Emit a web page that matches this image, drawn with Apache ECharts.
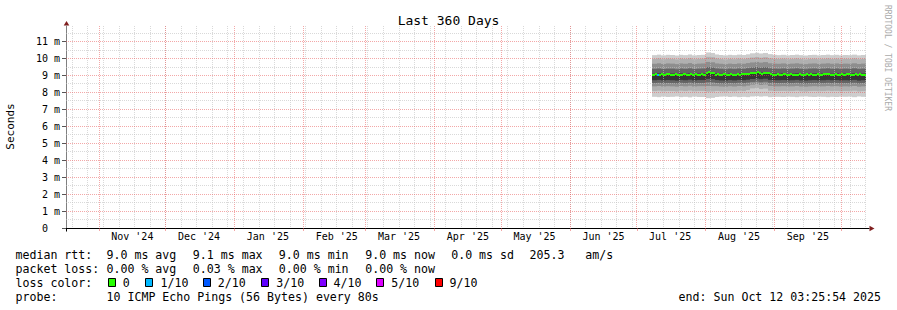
<!DOCTYPE html>
<html>
<head>
<meta charset="utf-8">
<title>Last 360 Days</title>
<script src="https://cdn.jsdelivr.net/npm/echarts@6.0.0/dist/echarts.min.js"></script>
<style>
html,body{margin:0;padding:0;background:#ffffff;}
#chart{width:897px;height:310px;}
</style>
</head>
<body>
<div id="chart"></div>
<script>
// ---------------- data ----------------
const rangeStart = '2024-10-17T03:25:54';
const rangeEnd = '2025-10-12T03:25:54';
const yMax = 11.92;
const yTickValues = [0, 1, 2, 3, 4, 5, 6, 7, 8, 9, 10, 11];
const monthStarts = ['2024-11-01','2024-12-01','2025-01-01','2025-02-01','2025-03-01','2025-04-01',
                     '2025-05-01','2025-06-01','2025-07-01','2025-08-01','2025-09-01','2025-10-01'];
const monthLabelDates = ['2024-11-16','2024-12-16','2025-01-16','2025-02-16','2025-03-16','2025-04-16',
                         '2025-05-16','2025-06-16','2025-07-16','2025-08-16','2025-09-16'];
const monthLabels = ["Nov '24","Dec '24","Jan '25","Feb '25","Mar '25","Apr '25",
                     "May '25","Jun '25","Jul '25","Aug '25","Sep '25"];
const firstSunday = '2024-10-20';

// smoke: sorted pings (ms), one column every 2 days starting 2025-07-08
const smokeStart = '2025-07-08';
const smokeStepDays = 2;
const ping1 = [7.74,7.72,7.75,7.73,7.74,7.76,7.72,7.74,7.71,7.75,7.73,7.73,
               7.66,7.68,7.73,7.75,7.76,7.73,7.75,7.72,7.74,7.72,7.76,7.78,7.75,7.77,7.72,7.74,
               7.74,7.73,7.75,7.74,7.72,7.75,7.76,7.74,7.73,7.75,7.74,7.72,7.74,7.73,7.75,
               7.74,7.75,7.72,7.76,7.74];
const ping2 = [8.08,8.10,8.07,8.09,8.08,8.06,8.10,8.08,8.11,8.07,8.09,8.09,
               8.05,8.06,8.09,8.07,8.06,8.09,8.07,8.10,8.08,8.14,8.24,8.27,8.20,8.23,8.10,8.08,
               8.08,8.09,8.07,8.08,8.10,8.07,8.06,8.08,8.09,8.07,8.08,8.10,8.08,8.09,8.07,
               8.08,8.07,8.10,8.06,8.08];
const ping3 = [8.36,8.38,8.35,8.37,8.36,8.34,8.38,8.36,8.39,8.35,8.37,8.37,
               8.38,8.37,8.37,8.35,8.34,8.37,8.35,8.38,8.36,8.40,8.46,8.49,8.44,8.47,8.38,8.36,
               8.36,8.37,8.35,8.36,8.38,8.35,8.34,8.36,8.37,8.35,8.36,8.38,8.36,8.37,8.35,
               8.36,8.35,8.38,8.34,8.36];
const ping4 = [8.55,8.57,8.54,8.56,8.55,8.53,8.57,8.55,8.58,8.54,8.56,8.56,
               8.60,8.59,8.56,8.54,8.53,8.56,8.54,8.57,8.55,8.58,8.62,8.64,8.60,8.63,8.57,8.55,
               8.55,8.56,8.54,8.55,8.57,8.54,8.53,8.55,8.56,8.54,8.55,8.57,8.55,8.56,8.54,
               8.55,8.54,8.57,8.53,8.55];
const ping5 = [8.72,8.74,8.71,8.73,8.72,8.70,8.74,8.72,8.75,8.71,8.73,8.73,
               8.80,8.78,8.73,8.71,8.70,8.73,8.71,8.74,8.72,8.75,8.79,8.82,8.78,8.81,8.74,8.72,
               8.72,8.73,8.71,8.72,8.74,8.71,8.70,8.72,8.73,8.71,8.72,8.74,8.72,8.73,8.71,
               8.72,8.71,8.74,8.70,8.72];
const ping6 = [9.10,9.12,9.09,9.11,9.11,9.08,9.12,9.10,9.12,9.09,9.11,9.11,
               9.20,9.18,9.12,9.10,9.08,9.11,9.09,9.12,9.10,9.14,9.18,9.21,9.17,9.20,9.13,9.11,
               9.10,9.12,9.09,9.11,9.12,9.10,9.08,9.11,9.12,9.09,9.11,9.12,9.10,9.12,9.09,
               9.11,9.10,9.12,9.09,9.11];
const ping7 = [9.39,9.41,9.38,9.40,9.40,9.37,9.41,9.39,9.42,9.38,9.40,9.41,
               9.50,9.47,9.41,9.39,9.37,9.40,9.38,9.41,9.39,9.43,9.47,9.50,9.46,9.49,9.42,9.40,
               9.39,9.41,9.38,9.40,9.42,9.39,9.37,9.40,9.41,9.38,9.40,9.42,9.39,9.41,9.38,
               9.40,9.39,9.42,9.38,9.40];
const ping8 = [9.69,9.72,9.68,9.71,9.70,9.67,9.71,9.69,9.73,9.68,9.70,9.71,
               9.80,9.78,9.71,9.69,9.67,9.70,9.68,9.71,9.69,9.73,9.77,9.80,9.76,9.79,9.72,9.70,
               9.69,9.71,9.68,9.70,9.72,9.69,9.67,9.70,9.71,9.68,9.70,9.72,9.69,9.71,9.68,
               9.70,9.69,9.72,9.68,9.70];
const ping9 = [9.97,10.00,9.96,9.99,9.98,9.95,9.99,9.97,10.01,9.96,9.98,9.99,
               10.10,10.08,10.00,9.97,9.95,9.98,9.96,9.99,9.97,10.01,10.06,10.09,10.05,10.08,10.01,9.98,
               9.97,9.99,9.96,9.98,10.00,9.97,9.95,9.98,9.99,9.96,9.98,10.00,9.97,9.99,9.96,
               9.98,9.97,10.00,9.96,9.98];
const ping10 = [10.20,10.23,10.19,10.22,10.21,10.18,10.22,10.20,10.24,10.19,10.21,10.22,
                10.36,10.33,10.24,10.21,10.19,10.22,10.20,10.23,10.21,10.25,10.31,10.34,10.30,10.33,10.26,10.22,
                10.20,10.22,10.19,10.21,10.23,10.20,10.18,10.21,10.22,10.19,10.21,10.23,10.20,10.22,10.19,
                10.21,10.20,10.23,10.19,10.21];

// median rtt (ms), one value per day starting 2025-07-08
const medianStart = '2025-07-08';
const medianStepDays = 1;
const medianRtt = [
  9.05,9.06,9.04,9.05,9.07,9.05,9.10,9.08,9.05,9.04,9.06,9.05,9.03,9.05,9.07,9.05,9.04,9.06,9.05,9.08,9.05,9.04,9.06,9.05,
  9.17,9.20,9.16,9.12,9.04,9.06,9.02,9.05,9.06,9.04,9.05,9.07,9.05,9.04,9.06,9.05,9.08,9.06,9.10,9.07,9.12,9.16,9.12,9.18,9.14,9.10,9.15,9.12,9.17,9.08,9.05,
  9.05,9.06,9.04,9.05,9.07,9.05,9.04,9.06,9.05,9.03,9.05,9.06,9.05,9.04,9.06,9.05,9.07,9.05,9.04,9.06,9.05,9.04,9.06,9.09,9.07,9.05,9.04,9.06,9.05,9.04,
  9.06,9.05,9.08,9.06,9.05,9.04,9.06,9.05,9.07,9.05,9.04
];
// days with packet loss (lost pings out of 10)
const lossEvents = [['2025-07-10', 1]];

const rttStats = ['9.0 ms avg', '9.1 ms max', '9.0 ms min', '9.0 ms now', '0.0 ms sd', '205.3   am/s'];
const lossStats = ['0.00 % avg', '0.03 % max', '0.00 % min', '0.00 % now'];
const lossLabels = ['0', '1/10', '2/10', '3/10', '4/10', '5/10', '9/10'];
const lossThresholds = [0, 1, 2, 3, 4, 5, 9];
const lossColors = ['#26ff00', '#00b8ff', '#0059ff', '#5e00ff', '#7e00ff', '#dd00ff', '#ff0000'];
const probeText = '10 ICMP Echo Pings (56 Bytes) every 80s';
const endText = 'end: Sun Oct 12 03:25:54 2025';

// ---------------- build ----------------
const DAY = 86400000;
function ts(s) { return Date.parse(s.length === 10 ? s + 'T00:00:00Z' : s + 'Z'); }
const T0 = ts(rangeStart), T1 = ts(rangeEnd);
const FONT = 'DejaVu Sans Mono';
const SMOKE_GREYS = ['#cdcdcd', '#b0b0b0', '#8e8e8e', '#646464', '#363636'];
const GRID_COLOR = 'rgba(191,191,191,0.6)';
const MGRID_COLOR = 'rgba(232,82,82,0.5)';
const ARROW_COLOR = '#801f1f';

const pings = [ping1, ping2, ping3, ping4, ping5, ping6, ping7, ping8, ping9, ping10];
const smokeData = ping1.map((_, i) => {
  const a = ts(smokeStart) + i * smokeStepDays * DAY;
  const b = i === ping1.length - 1 ? T1 : Math.min(a + smokeStepDays * DAY, T1);
  return [a, b].concat(pings.map(p => p[i]));
});

const lossMap = {};
lossEvents.forEach(([d, n]) => { lossMap[ts(d)] = n; });
const medianData = medianRtt.map((v, i) => {
  const a = ts(medianStart) + i * medianStepDays * DAY;
  const b = i === medianRtt.length - 1 ? T1 : a + medianStepDays * DAY;
  return [a, b, v, lossMap[a] || 0];
});
function lossColor(n) {
  let c = lossColors[0];
  lossThresholds.forEach((t, k) => { if (n >= t) c = lossColors[k]; });
  return c;
}

const vGrid = [];
for (let t = ts(firstSunday); t <= T1; t += 7 * DAY) vGrid.push([t, 0]);
monthStarts.forEach(d => vGrid.push([ts(d), 1]));
const hGrid = [];
yTickValues.forEach(v => { if (v + 0.5 < yMax) hGrid.push([v + 0.5, 0]); });
yTickValues.forEach(v => { if (v > 0) hGrid.push([v, 1]); });

const labelTs = monthLabelDates.map(ts);

function crisp(v) { return Math.floor(v) + 0.5; }

function renderSmoke(params, api) {
  const t0 = api.value(0), t1 = api.value(1);
  const xa = Math.round(api.coord([t0, 0])[0]);
  const xb = Math.round(api.coord([t1, 0])[0]);
  const children = [];
  for (let k = 0; k < 5; k++) {
    const lo = api.value(2 + k), hi = api.value(11 - k);
    const ya = api.coord([t0, hi])[1], yb = api.coord([t0, lo])[1];
    children.push({ type: 'rect', shape: { x: xa, y: ya, width: xb - xa, height: yb - ya },
                    style: { fill: SMOKE_GREYS[k] } });
  }
  return { type: 'group', children };
}
function renderMedian(params, api) {
  const t0 = api.value(0), t1 = api.value(1);
  const xa = Math.round(api.coord([t0, 0])[0]);
  const xb = Math.round(api.coord([t1, 0])[0]);
  const cy = api.coord([t0, api.value(2)])[1];
  const y = Math.round(cy) - 1;
  return { type: 'rect', shape: { x: xa, y: y, width: xb - xa, height: 2 },
           style: { fill: lossColor(api.value(3)) } };
}
function renderVGrid(params, api) {
  const t = api.value(0), major = api.value(1);
  const top = api.coord([t, yMax]), bot = api.coord([t, 0]);
  const x = crisp(top[0]);
  return { type: 'line', shape: { x1: x, y1: top[1], x2: x, y2: bot[1] },
           style: { stroke: major ? MGRID_COLOR : GRID_COLOR, lineWidth: 1, lineDash: [1, 1] } };
}
function renderHGrid(params, api) {
  const v = api.value(0), major = api.value(1);
  const l = api.coord([T0, v]), r = api.coord([T1, v]);
  const y = crisp(l[1]);
  return { type: 'line', shape: { x1: l[0], y1: y, x2: r[0], y2: y },
           style: { stroke: major ? MGRID_COLOR : GRID_COLOR, lineWidth: 1, lineDash: [1, 1] } };
}

const chart = echarts.init(document.getElementById('chart'), null, { renderer: 'svg' });
const option = {
  animation: false,
  backgroundColor: '#ffffff',
  grid: { left: 66, right: 31, top: 26, bottom: 82, containLabel: false, outerBoundsMode: 'none' },
  xAxis: {
    type: 'value', min: T0, max: T1,
    axisLine: { show: true, lineStyle: { color: '#000000', width: 1 } },
    axisTick: { show: true, customValues: monthStarts.map(ts), length: 3,
                lineStyle: { color: MGRID_COLOR } },
    axisLabel: { show: true, customValues: labelTs,
                 formatter: v => monthLabels[labelTs.indexOf(v)] || '',
                 fontFamily: FONT, fontSize: 10, color: '#000000', margin: 3 },
    splitLine: { show: false }
  },
  yAxis: {
    type: 'value', min: 0, max: yMax,
    axisLine: { show: true, lineStyle: { color: '#808080', width: 1 } },
    axisTick: { show: true, customValues: yTickValues, length: 4, lineStyle: { color: '#555555' } },
    axisLabel: { customValues: yTickValues,
                 formatter: v => (v === 0 ? '{z|0}' : v + ' m'),
                 rich: { z: { fontFamily: FONT, fontSize: 10, color: '#000000', padding: [0, 12, 0, 0] } },
                 fontFamily: FONT, fontSize: 10, color: '#000000', margin: 6 },
    splitLine: { show: false }
  },
  series: [
    { type: 'custom', name: 'smoke', data: smokeData, renderItem: renderSmoke, silent: true, z: 1,
      encode: { x: [0, 1], y: [2, 3, 4, 5, 6, 7, 8, 9, 10, 11] } },
    { type: 'custom', name: 'vgrid', data: vGrid, renderItem: renderVGrid, silent: true, z: 2,
      encode: { x: 0 } },
    { type: 'custom', name: 'hgrid', data: hGrid, renderItem: renderHGrid, silent: true, z: 2,
      encode: { y: 0 } },
    { type: 'custom', name: 'median rtt', data: medianData, renderItem: renderMedian, silent: true, z: 3,
      encode: { x: [0, 1], y: 2 } }
  ]
};
chart.setOption(option);

// ---------------- decorations & legend texts ----------------
const o = chart.convertToPixel({ gridIndex: 0 }, [T0, 0]);
const tr = chart.convertToPixel({ gridIndex: 0 }, [T1, yMax]);
const ox = crisp(o[0]), oy = crisp(o[1]);
const g = [];
g.push({ type: 'polygon', silent: true, shape: { points: [[ox, tr[1] - 5], [ox - 2.8, tr[1] - 0.5], [ox + 2.8, tr[1] - 0.5]] },
         style: { fill: ARROW_COLOR } });
g.push({ type: 'line', silent: true, shape: { x1: tr[0], y1: oy, x2: tr[0] + 3.5, y2: oy }, style: { stroke: '#000', lineWidth: 1 } });
g.push({ type: 'polygon', silent: true, shape: { points: [[tr[0] + 8.5, oy], [tr[0] + 3.5, oy - 2.8], [tr[0] + 3.5, oy + 2.8]] },
         style: { fill: ARROW_COLOR } });
g.push({ type: 'line', silent: true, shape: { x1: ox, y1: oy, x2: ox, y2: oy + 3 }, style: { stroke: '#000', lineWidth: 1 } });

function txt(x, y, text, opts) {
  opts = opts || {};
  g.push({ type: 'text', silent: true, x: x, y: y, rotation: opts.rotation || 0,
           style: { text: text, fontFamily: FONT, fontSize: opts.size || 11.6, fill: opts.color || '#000000',
                    align: opts.align || 'left', verticalAlign: 'middle' } });
}
txt(448.5, 20, 'Last 360 Days', { size: 13, align: 'center' });
txt(887, 5, 'RRDTOOL / TOBI OETIKER', { size: 8, color: '#aaaaaa', rotation: -Math.PI / 2 });
txt(10.5, 126.5, 'Seconds', { size: 11, align: 'center', rotation: Math.PI / 2 });

const rowY = [254.6, 268.6, 282.6, 296.6];
const colX = [106.5, 192.8, 278.8, 365.2, 451.2, 529.5];
txt(15.5, rowY[0], 'median rtt:');
rttStats.forEach((s, i) => txt(colX[i], rowY[0], s));
txt(15.5, rowY[1], 'packet loss:');
lossStats.forEach((s, i) => txt(colX[i], rowY[1], s));
txt(15.5, rowY[2], 'loss color:');
const boxX = [108.5, 145.5, 203.5, 261.5, 319.5, 376.5, 435.5];
const boxTextX = [122.8, 160.5, 217.8, 276.2, 333.5, 391.2, 449.5];
lossLabels.forEach((s, i) => {
  g.push({ type: 'rect', silent: true, shape: { x: boxX[i], y: 278.5, width: 7, height: 8 },
           style: { fill: lossColors[i], stroke: '#000000', lineWidth: 1 } });
  txt(boxTextX[i], rowY[2], s);
});
txt(15.5, rowY[3], 'probe:');
txt(colX[0], rowY[3], probeText);
txt(881, rowY[3], endText, { align: 'right' });

chart.setOption({ graphic: g });
</script>
</body>
</html>
